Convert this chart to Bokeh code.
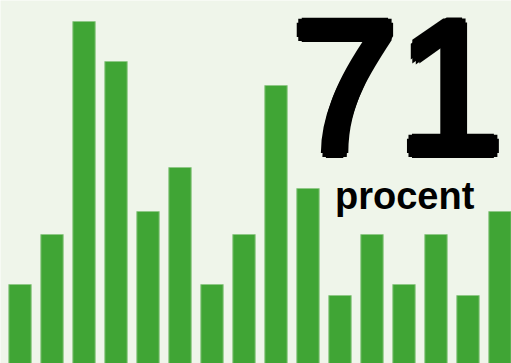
import math
from bokeh.plotting import figure
from bokeh.models import Range1d, ColumnDataSource
from bokeh.core.properties import value
from bokeh.embed import file_html
from bokeh.resources import INLINE

positions = list(range(16))
values = [7.9, 12.9, 34.2, 30.2, 15.2, 19.6, 7.9, 12.9, 27.8, 17.5, 6.8, 12.9, 7.9, 12.9, 6.8, 15.2]
big_number = "71"
unit_label = "procent"

BG = "#eff5ea"
GREEN = "#40a535"

p = figure(width=511, height=363, output_backend="svg", toolbar_location=None)
p.min_border_left = 0
p.min_border_right = 0
p.min_border_top = 0
p.min_border_bottom = 0
p.x_range = Range1d(-0.61, 15.36)
p.y_range = Range1d(0, 36.3)
p.xaxis.visible = False
p.yaxis.visible = False
p.xgrid.visible = False
p.ygrid.visible = False
p.outline_line_color = None
p.background_fill_color = BG
p.border_fill_color = BG

src = ColumnDataSource(dict(x=positions, top=values))
p.vbar(x="x", top="top", bottom=0, width=0.7, source=src,
       fill_color=GREEN, line_color="#8fc886", line_width=1)

# heavy big number: normal-weight text thickened by small screen offsets (style only)
r = 5
offs = [(0, 0)] + [(r * math.cos(a * math.pi / 4), r * math.sin(a * math.pi / 4)) for a in range(8)]
for dx, dy in offs:
    p.text(x=[11.80], y=[27.6], text=[big_number],
           text_font=value("Liberation Sans"),
           text_font_size="190px", text_color="#000000",
           x_offset=dx, y_offset=dy,
           text_align="center", text_baseline="alphabetic")

p.text(x=[12.02], y=[16.8], text=[unit_label],
       text_font=value("Liberation Sans"), text_font_style="bold",
       text_font_size="38px", text_color="#000000",
       text_align="center", text_baseline="alphabetic")

open("out.html", "w").write(file_html(p, INLINE))
